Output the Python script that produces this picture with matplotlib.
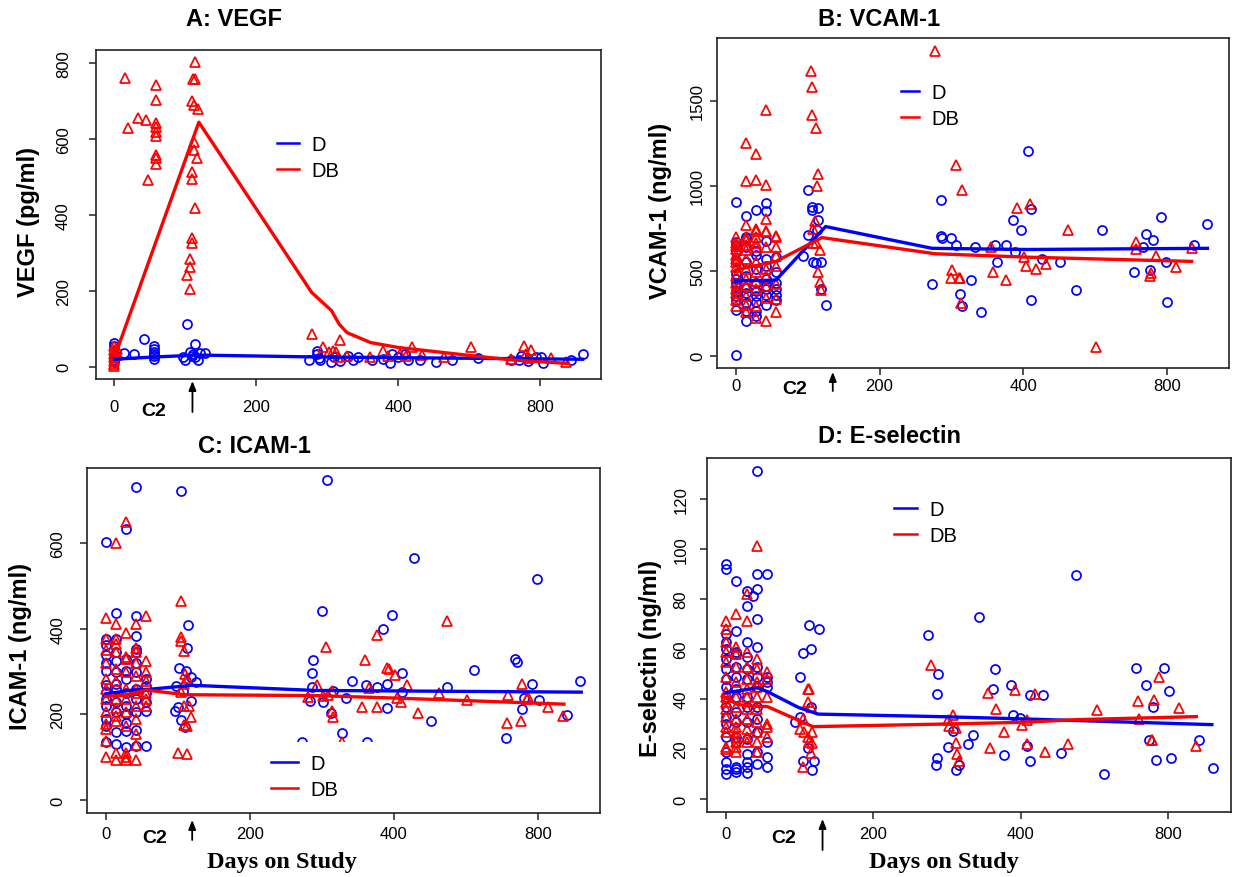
import numpy as np
import matplotlib
matplotlib.use("Agg")
import matplotlib.pyplot as plt
from matplotlib.lines import Line2D
from matplotlib.patches import Rectangle

plt.rcParams['font.family'] = ['Liberation Sans', 'DejaVu Sans']

W, H = 1239, 878

# ---------------- A: VEGF (pg/ml) ----------------
# early visits: {day: [values]}, later samples: (day, value)
vegf_D_early = {0: [63, 54, 35, 25, 18, 12], 14: [37], 28: [34], 42: [72],
                56: [56, 46, 38, 33, 28, 20]}
vegf_D_late = [(96, 27), (100, 18), (102, 112), (107, 40), (109, 29), (111, 33), (113, 61),
               (114, 25), (118, 18), (121, 36), (127, 36),
               (275, 18), (286, 42), (286, 33), (288, 22), (290, 18), (306, 14), (310, 25),
               (318, 16), (329, 29), (336, 18), (343, 27), (363, 18), (379, 20), (388, 11),
               (392, 33), (400, 27), (418, 33), (428, 18), (462, 18), (508, 14), (552, 18),
               (626, 22), (717, 18), (742, 18), (746, 29), (766, 16), (789, 25), (802, 27),
               (809, 11), (887, 18), (920, 33)]
vegf_DB_early = {0: [55, 45, 35, 25, 15, 8, 2], 3: [48, 30],
                 58: [742, 702, 643, 632, 619, 607, 557, 551, 535]}
vegf_DB_late = [(15, 761), (19, 629), (33, 656), (44, 650), (47, 491),
                (103, 241), (106, 205), (106, 284), (107, 262), (109, 338), (109, 326),
                (109, 512), (109, 494), (110, 701), (111, 758), (112, 688), (112, 591),
                (112, 572), (113, 758), (114, 803), (114, 417), (117, 549), (118, 679),
                (279, 86), (294, 51), (302, 40), (308, 42), (313, 38), (318, 71), (315, 25),
                (328, 29), (361, 25), (378, 42), (386, 29), (406, 33), (422, 29), (439, 51),
                (467, 31), (528, 27), (606, 51), (717, 20), (756, 54), (760, 33), (776, 45),
                (770, 22), (831, 22), (872, 13)]
vegf_D_line_day = [0, 56, 119, 283, 920]
vegf_D_line_val = [20, 26, 31, 26, 20]
vegf_DB_line_day = [1, 119, 278, 306, 317, 328, 361, 400, 611, 722, 878]
vegf_DB_line_val = [30, 644, 196, 148, 112, 90, 64, 51, 29, 18, 9]

# ---------------- B: VCAM-1 (ng/ml) ----------------
vcam_D_early = {0: [905, 670, 650, 610, 560, 480, 450, 430, 410, 380, 350, 330, 270, 5],
                14: [823, 700, 690, 640, 550, 470, 400, 370, 310, 265, 205],
                28: [856, 617, 590, 510, 430, 380, 350, 315, 265, 235],
                42: [900, 853, 676, 568, 530, 450, 410, 390, 355, 300],
                56: [580, 490, 430, 390, 360, 330]}
vcam_D_late = [(94, 584), (101, 973), (101, 708), (106, 875), (106, 855), (107, 550),
               (111, 545), (114, 869), (115, 796), (113, 737), (119, 550), (118, 393),
               (126, 299),
               (273, 423), (285, 914), (286, 702), (287, 692), (299, 692), (306, 653),
               (312, 364), (315, 291), (327, 446), (333, 639), (341, 260), (360, 649),
               (363, 550), (376, 653), (385, 798), (389, 613), (397, 739), (413, 1205),
               (420, 865), (420, 328), (453, 570), (502, 550), (546, 389), (619, 741),
               (708, 491), (733, 639), (740, 716), (752, 507), (760, 678), (782, 816),
               (797, 550), (800, 318), (876, 653), (912, 773)]
vcam_DB_early = {0: [700, 665, 645, 625, 590, 570, 550, 520, 470, 430, 390, 370, 330, 295],
                 14: [1250, 1030, 770, 700, 680, 650, 620, 570, 510, 450, 410, 350, 300, 255],
                 28: [1185, 1035, 745, 735, 700, 665, 640, 550, 490, 440, 390, 295, 220],
                 42: [1446, 1003, 805, 735, 725, 640, 510, 470, 410, 340, 205],
                 56: [705, 700, 640, 585, 530, 420, 335, 255]}
vcam_DB_late = [(105, 1672), (106, 1582), (106, 1415), (112, 1337), (114, 1072), (113, 1000),
                (110, 794), (108, 745), (112, 666), (108, 666), (117, 623), (114, 490),
                (117, 431), (119, 386),
                (277, 1795), (301, 507), (299, 456), (310, 456), (312, 456), (306, 1121),
                (315, 973), (313, 311), (355, 639), (358, 495), (376, 448), (391, 871),
                (402, 580), (408, 527), (418, 891), (434, 511), (464, 541), (524, 741),
                (602, 53), (714, 672), (714, 629), (752, 472), (756, 486), (770, 584),
                (824, 521), (868, 633)]
vcam_D_line_day = [0, 56, 125, 273, 410, 912]
vcam_D_line_val = [440, 445, 760, 632, 625, 632]
vcam_DB_line_day = [0, 56, 120, 277, 410, 868]
vcam_DB_line_val = [505, 555, 695, 600, 580, 555]

# ---------------- C: ICAM-1 (ng/ml) ----------------
icam_D_early = {0: [602, 376, 362, 338, 320, 302, 268, 252, 236, 220, 190, 173, 135],
                14: [436, 376, 345, 325, 298, 270, 259, 228, 205, 158, 131],
                28: [632, 330, 302, 282, 251, 220, 200, 181, 162, 125],
                42: [730, 430, 382, 352, 345, 321, 298, 259, 236, 205, 163, 127],
                56: [282, 267, 250, 228, 209, 127]}
icam_D_late = [(96, 209), (98, 267), (101, 309), (100, 217), (105, 721), (105, 187),
               (110, 171), (114, 409), (113, 354), (112, 302), (118, 287), (119, 232),
               (125, 275), (107, 255),
               (272, 135), (284, 232), (286, 296), (286, 265), (288, 327), (300, 441),
               (302, 230), (307, 746), (312, 203), (316, 254), (328, 156), (334, 238),
               (342, 279), (363, 135), (361, 269), (377, 265), (385, 400), (390, 214),
               (391, 271), (397, 431), (422, 296), (422, 252), (456, 566), (504, 184),
               (548, 263), (622, 304), (710, 146), (736, 330), (742, 322), (756, 213),
               (760, 238), (784, 271), (798, 516), (802, 234), (880, 199), (916, 277)]
icam_DB_early = {0: [426, 375, 350, 320, 282, 260, 236, 205, 178, 165, 137, 101],
                 14: [600, 411, 376, 364, 345, 306, 279, 236, 215, 197, 185, 111, 93],
                 28: [650, 391, 335, 329, 298, 259, 236, 205, 173, 111, 100, 93],
                 42: [411, 356, 345, 320, 290, 260, 251, 220, 189, 154, 128, 93],
                 56: [429, 325, 298, 279, 251, 235, 220]}
icam_DB_late = [(104, 464), (104, 380), (105, 372), (108, 349), (110, 294), (113, 284),
                (108, 271), (104, 252), (108, 220), (115, 219), (109, 175), (113, 174),
                (118, 193), (100, 111), (113, 107),
                (293, 269), (281, 240), (301, 244), (306, 358), (309, 245), (314, 255),
                (314, 209), (316, 195), (328, 135), (356, 217), (360, 327), (366, 261),
                (376, 386), (377, 217), (391, 308), (393, 305), (403, 291), (409, 238),
                (420, 228), (436, 269), (466, 203), (525, 249), (548, 418), (602, 234),
                (714, 181), (716, 246), (754, 184), (756, 271), (768, 236), (772, 240),
                (828, 217), (868, 196)]
icam_D_line_day = [0, 42, 56, 120, 290, 920]
icam_D_line_val = [248, 258, 258, 268, 256, 252]
icam_DB_line_day = [0, 28, 56, 110, 290, 410, 872]
icam_DB_line_val = [242, 245, 257, 246, 244, 238, 224]

# ---------------- D: E-selectin (ng/ml) ----------------
esel_D_early = {0: [94, 92, 66, 63, 60, 56, 52, 48, 45, 41, 37, 33, 30, 25, 19, 15, 12, 10],
                14: [87, 67, 59, 58, 53, 49, 44, 41, 35, 31, 25, 23, 13, 12, 11],
                28: [83, 77, 63, 57, 52, 48, 41, 37, 31, 24, 18, 15, 13, 10.5],
                37: [81],
                42: [131, 90, 84, 72, 61, 53, 49, 45, 37, 32, 27, 19, 14],
                56: [90, 49, 47, 45, 23, 17, 13]}
esel_D_late = [(101, 49), (100, 33), (94, 31), (105, 58.5), (112, 69.5), (115, 60),
               (111, 20.6), (105, 15.4), (117, 11.8), (119, 15.4), (126, 68), (115, 37),
               (274, 65.6), (288, 50), (287, 42), (287, 16.4), (285, 13.8), (308, 27.4),
               (301, 21), (312, 11.8), (317, 13.8), (328, 22.2), (335, 25.8), (343, 72.8),
               (363, 44), (365, 51.9), (378, 17.5), (387, 45.8), (390, 33.5), (399, 32.5),
               (418, 21.4), (426, 41.6), (426, 15.1), (460, 41.8), (509, 18.4), (552, 89.5),
               (626, 10), (714, 52.5), (741, 45.8), (748, 23.5), (761, 36.7), (767, 15.8),
               (791, 52.5), (804, 43.2), (810, 16.4), (886, 23.8), (922, 12.4)]
esel_DB_early = {0: [71, 68, 63, 59, 55, 49, 43, 41, 39, 36, 33, 29, 27, 21, 20],
                 14: [74, 61, 58, 53, 47, 41, 37, 32, 29, 27, 25, 23, 21, 19],
                 28: [82, 71, 59, 53, 48, 44, 41, 36, 32, 28, 25, 23],
                 42: [101, 56, 52, 47, 45, 41, 36, 31, 27, 23, 19],
                 56: [51, 48, 41, 30, 29, 25]}
esel_DB_late = [(104, 32), (101, 28), (106, 27), (111, 44), (113, 44), (111, 39), (115, 37),
                (111, 25), (113, 23), (116, 22.5), (115, 18.4), (104, 12.8), (117, 27),
                (278, 53.6), (301, 31.8), (303, 29.1), (308, 33.5), (312, 22.5), (313, 28.5),
                (314, 18.2), (317, 15.4), (356, 42.5), (359, 20.4), (367, 36), (378, 27),
                (392, 43.8), (404, 29.5), (418, 31.8), (418, 22.2), (438, 42), (466, 18.8),
                (530, 22), (608, 35.8), (720, 39.2), (722, 32), (756, 23.8), (758, 23.8),
                (764, 39.8), (776, 49), (832, 36.5), (878, 21.4)]
esel_D_line_day = [0, 42, 56, 98, 125, 290, 426, 920]
esel_D_line_val = [42.5, 44.5, 43, 36.7, 34, 33, 32, 29.8]
esel_DB_line_day = [0, 14, 28, 56, 118, 290, 404, 554, 878]
esel_DB_line_val = [40.5, 38, 37.3, 37, 29, 30, 30.7, 31.8, 33]

x_ticks = [0, 200, 400, 800]
x_tick_labels = ['0', '200', '400', '800']


# the day axis is compressed by half after day 400
def fwd(d):
    d = np.asarray(d, dtype=float)
    return np.where(d <= 400, d, 400 + (d - 400) / 2.0)


def inv(u):
    u = np.asarray(u, dtype=float)
    return np.where(u <= 400, u, 400 + (u - 400) * 2.0)


def expand(early, late):
    x, y = [], []
    for day, vals in early.items():
        x += [day] * len(vals)
        y += list(vals)
    for day, val in late:
        x.append(day)
        y.append(val)
    return np.array(x, float), np.array(y, float)


def px_rect(l, t, r, b):
    return [l / W, 1 - b / H, (r - l) / W, (b - t) / H]


panels = [
    dict(title='A: VEGF', ylabel='VEGF (pg/ml)',
         D=(vegf_D_early, vegf_D_late), DB=(vegf_DB_early, vegf_DB_late),
         Dl=(vegf_D_line_day, vegf_D_line_val), DBl=(vegf_DB_line_day, vegf_DB_line_val),
         ylim=(-32, 834), yticks=[0, 200, 400, 600, 800],
         rect=(96, 51, 601, 380), title_xy=(234, 20), ylab_xy=(28.5, 222),
         ypad=13, xpad=9.7, leg=(271, 130, 1.1), c2=(55, 412), arrow=(110, 382, 413),
         xlab=None),
    dict(title='B: VCAM-1', ylabel='VCAM-1 (ng/ml)',
         D=(vcam_D_early, vcam_D_late), DB=(vcam_DB_early, vcam_DB_late),
         Dl=(vcam_D_line_day, vcam_D_line_val), DBl=(vcam_DB_line_day, vcam_DB_line_val),
         ylim=(-72, 1869), yticks=[0, 500, 1000, 1500],
         rect=(717, 39, 1229, 369), title_xy=(879, 20), ylab_xy=(661, 211),
         ypad=3.5, xpad=2.0, leg=(895, 78, 0.9), c2=(82, 390), arrow=(135, 373, 392),
         xlab=None),
    dict(title='C: ICAM-1', ylabel='ICAM-1 (ng/ml)',
         D=(icam_D_early, icam_D_late), DB=(icam_DB_early, icam_DB_late),
         Dl=(icam_D_line_day, icam_D_line_val), DBl=(icam_DB_line_day, icam_DB_line_val),
         ylim=(-30, 775), yticks=[0, 200, 400, 600],
         rect=(87, 469, 600, 814), title_xy=(254, 447), ylab_xy=(21, 647),
         ypad=10.4, xpad=4.7, leg=(265, 749, 1.35), c2=(68, 839), arrow=(120, 821, 841),
         xlab=(282, 863), cover=(255, 743, 380, 810)),
    dict(title='D: E-selectin', ylabel='E-selectin (ng/ml)',
         D=(esel_D_early, esel_D_late), DB=(esel_DB_early, esel_DB_late),
         Dl=(esel_D_line_day, esel_D_line_val), DBl=(esel_DB_line_day, esel_DB_line_val),
         ylim=(-5.1, 136.3), yticks=[0, 20, 40, 60, 80, 100, 120],
         rect=(707, 459, 1231, 813), title_xy=(889, 437), ylab_xy=(650, 659),
         ypad=8.3, xpad=5.4, leg=(888, 495, 1.15), c2=(78, 839), arrow=(131, 820, 851),
         xlab=(944, 863)),
]

fig = plt.figure(figsize=(W / 100, H / 100), dpi=100)

for p in panels:
    ax = fig.add_axes(px_rect(*p['rect']))
    ax.set_xscale('function', functions=(fwd, inv))

    dx, dy = expand(*p['D'])
    bx, by = expand(*p['DB'])
    ax.plot(dx, dy, ls='none', marker='o', ms=6.5, mfc='none', mec='#0000ff', mew=1.25, zorder=2)
    ax.plot(bx, by, ls='none', marker='^', ms=6.5, mfc='none', mec='#ff0000', mew=1.25, zorder=2)
    ax.plot(*p['Dl'], color='#0000ff', lw=2.4, zorder=3)
    ax.plot(*p['DBl'], color='#ff0000', lw=2.4, zorder=3)

    ax.set_xlim(-26, 972)
    ax.set_ylim(*p['ylim'])
    ax.set_xticks(x_ticks)
    ax.set_xticklabels(x_tick_labels, fontsize=12)
    ax.set_yticks(p['yticks'])
    ax.set_yticklabels([str(v) for v in p['yticks']], fontsize=12, rotation=90, va='center')
    ax.tick_params(axis='both', direction='out', length=5, width=1.1, color='#222222')
    ax.tick_params(axis='x', pad=p['xpad'])
    ax.tick_params(axis='y', pad=p['ypad'])
    for s in ax.spines.values():
        s.set_linewidth(1.2)
        s.set_color('#222222')

    if 'cover' in p:
        l, t, r, b = p['cover']
        ax.add_patch(Rectangle((l / W, 1 - b / H), (r - l) / W, (b - t) / H,
                               transform=fig.transFigure, facecolor='white',
                               edgecolor='none', zorder=4))

    lx, ly, hl = p['leg']
    handles = [Line2D([], [], color='#0000ff', lw=1.8), Line2D([], [], color='#ff0000', lw=1.8)]
    leg = ax.legend(handles, ['D', 'DB'], loc='upper left',
                    bbox_to_anchor=(lx / W, 1 - ly / H), bbox_transform=fig.transFigure,
                    frameon=True, facecolor='white', edgecolor='none', framealpha=1,
                    fancybox=False, borderpad=0.3, borderaxespad=0, handlelength=hl,
                    handletextpad=0.6, labelspacing=0.35, fontsize=14.5)
    leg.set_zorder(5)

    cx, cy = p['c2']
    ax.annotate('C2', xy=(cx, H - cy), xycoords=('data', 'figure pixels'),
                ha='center', va='center', fontsize=14, fontweight='bold',
                annotation_clip=False)
    ax_, tip, tail = p['arrow']
    ax.annotate('', xy=(ax_, H - tip), xycoords=('data', 'figure pixels'),
                xytext=(ax_, H - tail), textcoords=('data', 'figure pixels'),
                arrowprops=dict(arrowstyle='-|>,head_length=0.55,head_width=0.22',
                                color='black', lw=1.3, shrinkA=0, shrinkB=0),
                annotation_clip=False)

    tx, ty = p['title_xy']
    fig.text(tx / W, 1 - ty / H, p['title'], ha='center', va='center',
             fontsize=17, fontweight='bold')
    yx, yy = p['ylab_xy']
    fig.text(yx / W, 1 - yy / H, p['ylabel'], ha='center', va='center', rotation=90,
             fontsize=17, fontweight='bold')
    if p['xlab'] is not None:
        xx, xy = p['xlab']
        fig.text(xx / W, 1 - xy / H, 'Days on Study', ha='center', va='center',
                 fontsize=17.5, fontweight='bold', family=['Liberation Serif', 'DejaVu Serif'])

fig.savefig('out.png', dpi=100)
